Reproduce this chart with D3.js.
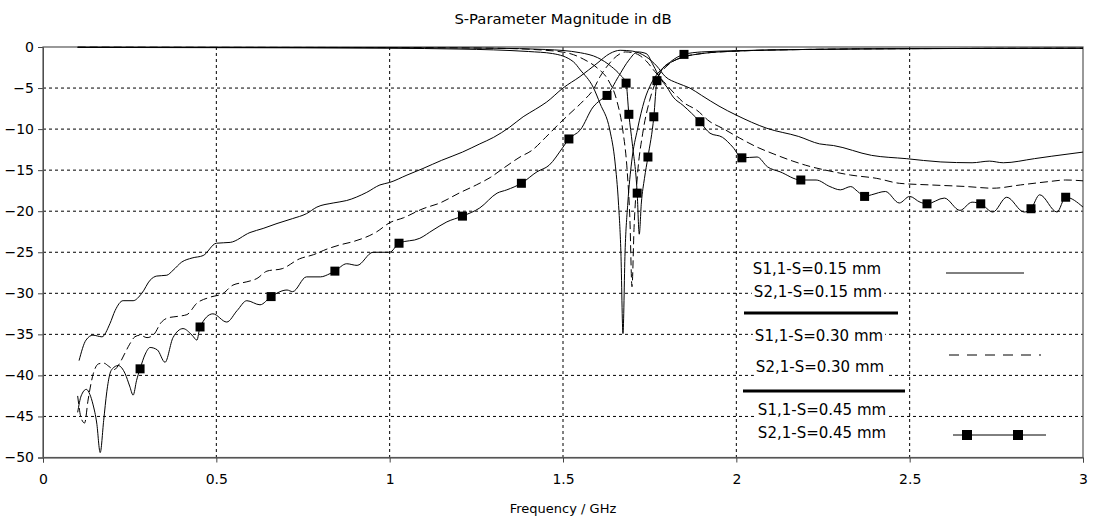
<!DOCTYPE html>
<html>
<head>
<meta charset="utf-8">
<script src="https://cdn.jsdelivr.net/npm/d3@7"></script>
<style>
  body { margin: 0; background: #fff; }
  text { font-family: "DejaVu Sans", Verdana, sans-serif; fill: #000; }
</style>
</head>
<body>
<div id="chart"></div>
<script>
// S-parameter curves, [frequency GHz, magnitude dB]
var s21_015 = [[0.104,-38.2],[0.124,-35.7],[0.144,-35.1],[0.17,-35.3],[0.193,-33.7],[0.208,-32.1],[0.231,-30.9],[0.26,-30.9],[0.285,-30.0],[0.309,-28.4],[0.328,-27.9],[0.357,-27.8],[0.375,-27.2],[0.40,-26.2],[0.43,-25.7],[0.462,-25.4],[0.50,-23.9],[0.54,-23.8],[0.597,-22.6],[0.635,-22.1],[0.675,-21.5],[0.72,-20.9],[0.76,-20.3],[0.79,-19.5],[0.837,-19.0],[0.876,-18.7],[0.934,-17.7],[0.972,-16.8],[1.0,-16.5],[1.05,-15.6],[1.096,-14.8],[1.15,-13.8],[1.21,-12.8],[1.26,-11.8],[1.30,-11.0],[1.345,-9.8],[1.385,-8.5],[1.42,-7.6],[1.453,-6.7],[1.50,-5.0],[1.549,-3.6],[1.598,-2.0],[1.635,-0.8],[1.665,-0.4],[1.70,-0.5],[1.74,-1.2],[1.77,-2.3],[1.795,-3.6],[1.83,-4.4],[1.866,-5.0],[1.9,-5.9],[1.95,-7.2],[2.0,-8.3],[2.088,-9.9],[2.18,-10.9],[2.24,-11.8],[2.28,-12.0],[2.39,-13.2],[2.49,-13.6],[2.59,-14.0],[2.68,-14.1],[2.73,-13.9],[2.77,-14.1],[2.86,-13.6],[2.91,-13.3],[3.0,-12.8]];

var s11_015 = [[0.1,-0.05],[0.5,-0.08],[1.0,-0.15],[1.2,-0.25],[1.3,-0.35],[1.4,-0.55],[1.47,-0.8],[1.53,-1.8],[1.55,-2.8],[1.587,-4.9],[1.607,-6.9],[1.635,-10.1],[1.65,-14],[1.66,-19],[1.667,-25],[1.673,-34.9],[1.679,-25],[1.687,-19],[1.698,-14],[1.715,-10],[1.735,-6.5],[1.755,-4.4],[1.78,-2.9],[1.81,-1.9],[1.85,-1.2],[1.9,-0.8],[2.0,-0.5],[2.2,-0.3],[2.5,-0.2],[3.0,-0.15]];

var s21_030 = [[0.10,-42.5],[0.11,-45.2],[0.12,-45.8],[0.13,-43.0],[0.145,-39.8],[0.16,-38.6],[0.175,-38.5],[0.19,-38.9],[0.205,-39.3],[0.22,-38.6],[0.235,-37.4],[0.25,-36.2],[0.265,-35.3],[0.28,-35.1],[0.30,-35.4],[0.32,-35.0],[0.34,-33.6],[0.36,-33.0],[0.39,-32.8],[0.415,-32.6],[0.444,-31.2],[0.48,-30.5],[0.52,-30.0],[0.548,-29.0],[0.588,-28.6],[0.617,-28.2],[0.646,-27.3],[0.69,-27.0],[0.74,-25.8],[0.78,-25.3],[0.82,-24.6],[0.857,-24.1],[0.895,-23.7],[0.963,-22.5],[1.0,-21.4],[1.04,-20.8],[1.096,-19.7],[1.145,-19.0],[1.2,-17.8],[1.25,-16.8],[1.29,-15.9],[1.327,-14.8],[1.376,-13.4],[1.41,-12.6],[1.45,-11.0],[1.49,-9.3],[1.52,-8.1],[1.56,-6.5],[1.587,-5.2],[1.607,-3.6],[1.63,-2.2],[1.655,-1.1],[1.68,-0.6],[1.71,-0.8],[1.74,-1.7],[1.765,-3.0],[1.79,-4.2],[1.82,-5.6],[1.846,-6.7],[1.886,-7.7],[1.924,-9.1],[1.96,-9.9],[2.01,-11.1],[2.06,-12.2],[2.106,-13.0],[2.163,-13.9],[2.2,-14.4],[2.28,-15.2],[2.33,-15.6],[2.405,-16.0],[2.47,-16.6],[2.56,-16.8],[2.665,-17.0],[2.74,-17.2],[2.82,-16.8],[2.9,-16.4],[2.95,-16.2],[3.0,-16.3]];

var s11_030 = [[0.1,-0.02],[0.5,-0.04],[1.0,-0.07],[1.3,-0.15],[1.45,-0.4],[1.52,-0.8],[1.56,-1.5],[1.6,-2.6],[1.63,-4.0],[1.655,-6.5],[1.672,-10],[1.685,-15],[1.693,-21],[1.699,-29.2],[1.705,-22],[1.715,-15.5],[1.73,-10.5],[1.75,-6.5],[1.775,-3.6],[1.8,-2.3],[1.84,-1.3],[1.9,-0.8],[2.0,-0.5],[2.2,-0.3],[2.5,-0.2],[3.0,-0.15]];

var s21_045 = [[0.10,-44.5],[0.11,-42.5],[0.125,-41.7],[0.135,-42.3],[0.144,-43.5],[0.155,-45.8],[0.165,-49.4],[0.175,-45.5],[0.184,-42.0],[0.193,-39.8],[0.2,-39.2],[0.217,-38.8],[0.237,-39.8],[0.25,-41.3],[0.26,-42.4],[0.27,-40.6],[0.28,-39.2],[0.295,-37.4],[0.309,-36.6],[0.33,-36.9],[0.352,-38.4],[0.375,-35.4],[0.404,-34.3],[0.43,-35.1],[0.444,-35.7],[0.453,-34.1],[0.49,-32.5],[0.53,-33.5],[0.56,-32.1],[0.588,-30.9],[0.626,-31.4],[0.658,-30.4],[0.704,-29.6],[0.72,-29.8],[0.76,-28.0],[0.8,-28.0],[0.828,-27.6],[0.842,-27.3],[0.876,-26.4],[0.906,-26.6],[0.952,-25.0],[1.0,-25.0],[1.027,-23.9],[1.087,-23.3],[1.125,-22.3],[1.165,-21.3],[1.21,-20.6],[1.26,-19.6],[1.31,-17.8],[1.338,-17.4],[1.38,-16.6],[1.425,-15.2],[1.46,-14.4],[1.5,-12.2],[1.517,-11.2],[1.55,-10.1],[1.587,-7.3],[1.607,-6.5],[1.627,-5.9],[1.66,-3.6],[1.69,-1.6],[1.715,-0.6],[1.74,-0.8],[1.76,-2.2],[1.78,-3.8],[1.80,-4.9],[1.818,-6.1],[1.846,-7.1],[1.895,-9.1],[1.924,-10.5],[1.96,-11.0],[1.99,-12.2],[2.016,-13.5],[2.06,-13.4],[2.09,-14.6],[2.126,-15.2],[2.186,-16.2],[2.23,-16.2],[2.27,-17.0],[2.3,-17.4],[2.33,-17.0],[2.35,-17.6],[2.37,-18.2],[2.39,-18.0],[2.43,-17.6],[2.47,-19.0],[2.5,-18.2],[2.53,-18.9],[2.55,-19.1],[2.6,-18.4],[2.645,-19.9],[2.68,-18.9],[2.705,-19.1],[2.74,-20.1],[2.78,-18.3],[2.83,-20.1],[2.85,-19.7],[2.875,-18.0],[2.925,-20.1],[2.95,-18.3],[3.0,-19.5]];

var s11_045 = [[0.1,-0.03],[0.5,-0.05],[1.0,-0.08],[1.3,-0.15],[1.45,-0.3],[1.55,-0.7],[1.6,-1.3],[1.64,-2.4],[1.665,-3.4],[1.682,-4.4],[1.69,-8.2],[1.70,-11.8],[1.714,-17.8],[1.72,-22.8],[1.726,-19],[1.735,-16],[1.745,-13.4],[1.762,-8.5],[1.771,-4.1],[1.785,-2.8],[1.81,-1.8],[1.849,-0.9],[1.9,-0.6],[2.0,-0.45],[2.2,-0.3],[2.5,-0.2],[3.0,-0.15]];

// square markers drawn on the S=0.45 mm curves
var markers_s21_045 = [[0.28,-39.2],[0.453,-34.1],[0.658,-30.4],[0.842,-27.3],[1.027,-23.9],[1.21,-20.6],[1.38,-16.6],[1.517,-11.2],[1.627,-5.9],[1.895,-9.1],[2.016,-13.5],[2.186,-16.2],[2.37,-18.2],[2.55,-19.1],[2.705,-19.1],[2.85,-19.7],[2.95,-18.3]];
var markers_s11_045 = [[1.682,-4.4],[1.69,-8.2],[1.714,-17.8],[1.745,-13.4],[1.762,-8.5],[1.771,-4.1],[1.849,-0.9]];

var xTicks = [0, 0.5, 1, 1.5, 2, 2.5, 3];
var yTicks = [0, -5, -10, -15, -20, -25, -30, -35, -40, -45, -50];
var legendLabels = ["S1,1-S=0.15 mm", "S2,1-S=0.15 mm", "S1,1-S=0.30 mm", "S2,1-S=0.30 mm", "S1,1-S=0.45 mm", "S2,1-S=0.45 mm"];

var W = 1093, H = 520;
var margin = {top: 47, right: 10, bottom: 62.5, left: 43};
var width = W - margin.left - margin.right;
var height = H - margin.top - margin.bottom;

var svg = d3.select("#chart").append("svg")
  .attr("width", W)
  .attr("height", H)
  .style("background", "#fff");

var g = svg.append("g")
  .attr("transform", "translate(" + margin.left + "," + margin.top + ")");

var x = d3.scaleLinear().domain([0, 3]).range([0, width]);
var y = d3.scaleLinear().domain([-50, 0]).range([height, 0]);

// grid
g.append("g")
  .selectAll("line")
  .data(xTicks.filter(function(d) { return d > 0 && d < 3; }))
  .enter().append("line")
  .attr("x1", function(d) { return x(d); })
  .attr("x2", function(d) { return x(d); })
  .attr("y1", 0).attr("y2", height)
  .attr("stroke", "#000").attr("stroke-width", 1)
  .attr("stroke-dasharray", "3,3");

g.append("g")
  .selectAll("line")
  .data(yTicks.filter(function(d) { return d < 0 && d > -50; }))
  .enter().append("line")
  .attr("y1", function(d) { return y(d); })
  .attr("y2", function(d) { return y(d); })
  .attr("x1", 0).attr("x2", width)
  .attr("stroke", "#000").attr("stroke-width", 1)
  .attr("stroke-dasharray", "3,3");

// axes
var xAxis = g.append("g")
  .attr("transform", "translate(0," + height + ")")
  .call(d3.axisBottom(x).tickValues(xTicks).tickSize(5).tickPadding(12).tickFormat(d3.format("")));
var yAxis = g.append("g")
  .call(d3.axisLeft(y).tickValues(yTicks).tickSize(5).tickPadding(4).tickFormat(d3.format("")));

[xAxis, yAxis].forEach(function(a) {
  a.attr("font-family", null).attr("font-size", null);
  a.selectAll("text").style("font-size", "14px").style("fill", "#000");
  a.selectAll("line").attr("stroke", "#444");
  a.select(".domain").attr("stroke", "#444");
});

g.append("rect")
  .attr("width", width).attr("height", height)
  .attr("fill", "none").attr("stroke", "#555").attr("stroke-width", 1.2);

// curves
g.append("clipPath").attr("id", "clip")
  .append("rect").attr("x", 0).attr("y", -1).attr("width", width).attr("height", height + 1);

var line = d3.line()
  .x(function(d) { return x(d[0]); })
  .y(function(d) { return y(d[1]); })
  .curve(d3.curveMonotoneX);

var curves = [
  {data: s11_015, dash: null},
  {data: s21_015, dash: null},
  {data: s11_030, dash: "8,4"},
  {data: s21_030, dash: "8,4"},
  {data: s11_045, dash: null},
  {data: s21_045, dash: null}
];

var plot = g.append("g").attr("clip-path", "url(#clip)");

plot.selectAll("path.curve")
  .data(curves)
  .enter().append("path")
  .attr("class", "curve")
  .attr("d", function(c) { return line(c.data); })
  .attr("fill", "none")
  .attr("stroke", "#000")
  .attr("stroke-width", 1)
  .attr("stroke-dasharray", function(c) { return c.dash; });

var msize = 9;
plot.selectAll("rect.marker")
  .data(markers_s21_045.concat(markers_s11_045))
  .enter().append("rect")
  .attr("class", "marker")
  .attr("x", function(d) { return x(d[0]) - msize / 2; })
  .attr("y", function(d) { return y(d[1]) - msize / 2; })
  .attr("width", msize).attr("height", msize)
  .attr("fill", "#000");

// legend
var legend = g.append("g");
var legendY = [222, 245, 289, 320, 363, 386];
var legendX = [817, 818, 819, 820, 822, 822];

legendLabels.forEach(function(label, i) {
  var t = legend.append("text")
    .attr("x", legendX[i] - margin.left)
    .attr("y", legendY[i])
    .attr("dy", "0.35em")
    .attr("text-anchor", "middle")
    .style("font-size", "15px")
    .text(label);
  var bb = t.node().getBBox();
  legend.insert("rect", "text")
    .attr("x", bb.x - 2).attr("y", bb.y - 1)
    .attr("width", bb.width + 4).attr("height", bb.height + 3)
    .attr("fill", "#fff");
});

legend.append("line")
  .attr("x1", 744 - margin.left).attr("x2", 898 - margin.left)
  .attr("y1", 266).attr("y2", 266)
  .attr("stroke", "#000").attr("stroke-width", 3);
legend.append("line")
  .attr("x1", 743 - margin.left).attr("x2", 905 - margin.left)
  .attr("y1", 344).attr("y2", 344)
  .attr("stroke", "#000").attr("stroke-width", 3);

legend.append("line")
  .attr("x1", 946 - margin.left).attr("x2", 1024 - margin.left)
  .attr("y1", 226).attr("y2", 226)
  .attr("stroke", "#000").attr("stroke-width", 1);
legend.append("line")
  .attr("x1", 949 - margin.left).attr("x2", 1041 - margin.left)
  .attr("y1", 308).attr("y2", 308)
  .attr("stroke", "#000").attr("stroke-width", 1)
  .attr("stroke-dasharray", "10,8");
legend.append("line")
  .attr("x1", 953 - margin.left).attr("x2", 1046 - margin.left)
  .attr("y1", 388).attr("y2", 388)
  .attr("stroke", "#000").attr("stroke-width", 1);
[967, 1018].forEach(function(px) {
  legend.append("rect")
    .attr("x", px - margin.left - 5).attr("y", 388 - 5)
    .attr("width", 10).attr("height", 10)
    .attr("fill", "#000");
});

// titles
svg.append("text")
  .attr("x", margin.left + width / 2)
  .attr("y", 24)
  .attr("text-anchor", "middle")
  .style("font-size", "14.8px")
  .text("S-Parameter Magnitude in dB");

svg.append("text")
  .attr("x", margin.left + width / 2)
  .attr("y", 513)
  .attr("text-anchor", "middle")
  .style("font-size", "13px")
  .text("Frequency / GHz");
</script>
</body>
</html>
